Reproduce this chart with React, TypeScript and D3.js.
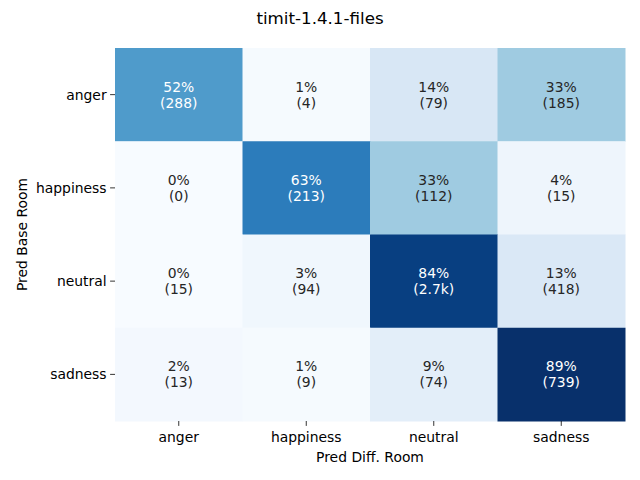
import React from "react";
import * as d3 from "d3";

const rowLabels = ["anger", "happiness", "neutral", "sadness"];
const colLabels = ["anger", "happiness", "neutral", "sadness"];
const percents = [
  [0.52, 0.01, 0.14, 0.33],
  [0.0, 0.63, 0.33, 0.04],
  [0.0, 0.03, 0.84, 0.13],
  [0.02, 0.01, 0.09, 0.89],
];
const counts = [
  ["288", "4", "79", "185"],
  ["0", "213", "112", "15"],
  ["15", "94", "2.7k", "418"],
  ["13", "9", "74", "739"],
];
const title = "timit-1.4.1-files";
const xTitle = "Pred Diff. Room";
const yTitle = "Pred Base Room";

const bluesStops = ["#f7fbff", "#deebf7", "#c6dbef", "#9ecae1", "#6baed6", "#4292c6", "#2171b5", "#08519c", "#08306b"];

const W = 640, H = 480;
const left = 115, right = 625, top = 48, bottom = 421;
const font = "DejaVu Sans, sans-serif";

export default function App() {
  const x = d3.scaleBand<string>().domain(colLabels).range([left, right]);
  const y = d3.scaleBand<string>().domain(rowLabels).range([top, bottom]);
  const flat = percents.flat();
  const vmin = d3.min(flat)!, vmax = d3.max(flat)!;
  const norm = d3.scaleLinear().domain([vmin, vmax]).range([0, 1]);
  const cmap = d3.scaleLinear<string>()
    .domain(bluesStops.map((_, i) => i / (bluesStops.length - 1)))
    .range(bluesStops)
    .interpolate(d3.interpolateRgb);
  const lum = (c: string) => {
    const rgb = d3.rgb(c);
    const f = (v: number) => { v /= 255; return v <= 0.03928 ? v / 12.92 : Math.pow((v + 0.055) / 1.055, 2.4); };
    return 0.2126 * f(rgb.r) + 0.7152 * f(rgb.g) + 0.0722 * f(rgb.b);
  };
  return (
    <svg width={W} height={H} style={{ display: "block", position: "absolute", left: 0, top: 0 }} fontFamily={font}>
      <rect width={W} height={H} fill="white" />
      {percents.map((row, i) => row.map((v, j) => {
        const c = cmap(norm(v));
        const tc = lum(c) > 0.408 ? "#262626" : "#ffffff";
        const cx = x(colLabels[j])! + x.bandwidth() / 2;
        const cy = y(rowLabels[i])! + y.bandwidth() / 2;
        return (
          <g key={`${i}-${j}`}>
            <rect x={x(colLabels[j])} y={y(rowLabels[i])} width={x.bandwidth() + 0.5} height={y.bandwidth() + 0.5} fill={c} />
            <text x={cx} y={cy - 8} textAnchor="middle" dominantBaseline="central" fontSize={13.9} fill={tc}>{Math.round(v * 100)}%</text>
            <text x={cx} y={cy + 8} textAnchor="middle" dominantBaseline="central" fontSize={13.9} fill={tc}>({counts[i][j]})</text>
          </g>
        );
      }))}
      {rowLabels.map((r) => {
        const cy = y(r)! + y.bandwidth() / 2;
        return (
          <g key={"y" + r}>
            <line x1={left - 4.9} x2={left} y1={cy} y2={cy} stroke="#000" strokeWidth={0.8} />
            <text x={left - 8.4} y={cy} textAnchor="end" dominantBaseline="central" fontSize={13.9} fill="#000">{r}</text>
          </g>
        );
      })}
      {colLabels.map((c) => {
        const cx = x(c)! + x.bandwidth() / 2;
        return (
          <g key={"x" + c}>
            <line x1={cx} x2={cx} y1={bottom} y2={bottom + 4.9} stroke="#000" strokeWidth={0.8} />
            <text x={cx} y={442} textAnchor="middle" fontSize={13.9} fill="#000">{c}</text>
          </g>
        );
      })}
      <text x={(left + right) / 2} y={462} textAnchor="middle" fontSize={13.9} fill="#000">{xTitle}</text>
      <text transform={`translate(26.5,${(top + bottom) / 2}) rotate(-90)`} textAnchor="middle" fontSize={13.9} fill="#000">{yTitle}</text>
      <text x={W / 2} y={24} textAnchor="middle" fontSize={16.7} fill="#000">{title}</text>
    </svg>
  );
}
